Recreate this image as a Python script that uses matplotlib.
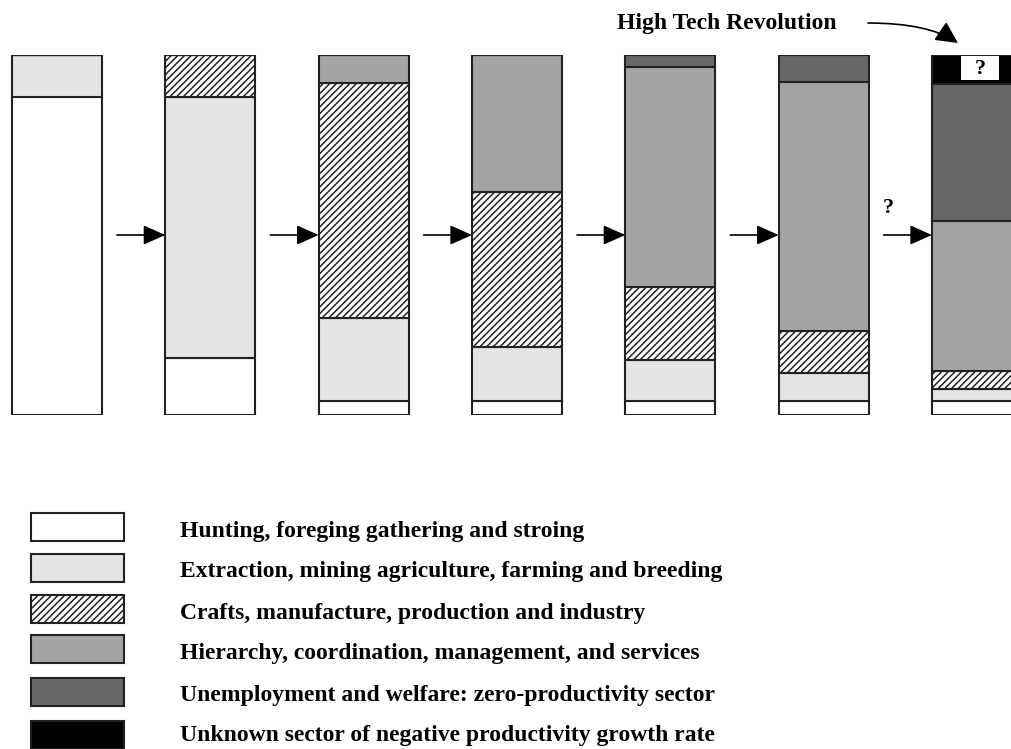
import matplotlib
matplotlib.use('Agg')
from matplotlib import pyplot as plt
from matplotlib.patches import Rectangle
import numpy as np

# 各阶段各部门所占份额（%），从下往上堆叠
stages = [0, 1, 2, 3, 4, 5, 6]
hunting = [88.3, 15.8, 3.9, 3.9, 3.9, 3.9, 3.9]
extraction = [11.7, 72.5, 23.0, 15.0, 11.4, 7.8, 3.3]
crafts = [0, 11.7, 65.3, 43.1, 20.3, 11.7, 5.0]
hierarchy = [0, 0, 7.8, 38.0, 61.1, 69.1, 41.7]
welfare = [0, 0, 0, 0, 3.3, 7.5, 38.1]
unknown = [0, 0, 0, 0, 0, 0, 8.0]

labels = ['Hunting, foreging gathering and stroing',
          'Extraction, mining agriculture, farming and breeding',
          'Crafts, manufacture, production and industry',
          'Hierarchy, coordination, management, and services',
          'Unemployment and welfare: zero-productivity sector',
          'Unknown sector of negative productivity growth rate']
colors = ['white', '#e4e4e4', 'white', '#a4a4a4', '#686868', 'black']
hatches = [None, None, '/////', None, None, None]
series = [hunting, extraction, crafts, hierarchy, welfare, unknown]

plt.rcParams['font.family'] = ['Liberation Serif', 'DejaVu Serif']
plt.rcParams['font.weight'] = 'bold'
plt.rcParams['hatch.linewidth'] = 1.1

W, H = 1011, 749
fig = plt.figure(figsize=(W / 100, H / 100), dpi=100)

# 柱状图区域：y 55~415 像素
ax = fig.add_axes([0, (H - 415) / H, 1, 360 / H])
step = 153.33
ax.set_xlim(-57 / step, (W - 57) / step)
ax.set_ylim(0, 100)
ax.axis('off')
bw = 90 / step

bottom = np.zeros(len(stages))
for vals, c, h in zip(series, colors, hatches):
    vals = np.array(vals)
    ax.bar(stages, vals, width=bw, bottom=bottom, color=c, hatch=h,
           edgecolor='#222222', linewidth=1.5, align='center')
    bottom += vals

# 阶段之间的箭头
for i in stages[:-1]:
    ax.annotate('', xy=(i + 1 - bw / 2, 50), xytext=(i + bw / 2 + 15 / step, 50),
                arrowprops=dict(arrowstyle='-|>,head_length=0.9,head_width=0.4',
                                mutation_scale=15, lw=1.2, color='black',
                                shrinkA=0, shrinkB=0))
ax.text(5.42, 57.5, '?', fontsize=16, ha='center', va='center')

# 黑色部分中的问号框
top7 = bottom[6]
blk = unknown[6]
ax.add_patch(Rectangle((6 - 16 / step, top7 - blk + 1.1), 38 / step, blk - 1.4,
                       facecolor='white', edgecolor='none', zorder=3))
ax.text(6 + 3 / step, top7 - blk / 2, '?', fontsize=16, ha='center', va='center', zorder=4)

# 覆盖层：标题和图例（像素坐标）
ov = fig.add_axes([0, 0, 1, 1])
ov.set_xlim(0, W)
ov.set_ylim(H, 0)
ov.axis('off')
ov.patch.set_alpha(0)

ov.text(727, 23, 'High Tech Revolution', fontsize=17, ha='center', va='center')
ov.annotate('', xy=(958, 43), xytext=(868, 23),
            arrowprops=dict(arrowstyle='-|>,head_length=0.9,head_width=0.45',
                            mutation_scale=15, lw=1.2, color='black',
                            connectionstyle='angle3,angleA=0,angleB=-34',
                            shrinkA=0, shrinkB=0))

box_tops = [513, 554, 595, 635, 678, 721]
text_y = [532, 572, 614, 653, 696, 735]
for t, ty, lab, c, h in zip(box_tops, text_y, labels, colors, hatches):
    ov.add_patch(Rectangle((31, t), 93, 28, facecolor=c, hatch=h,
                           edgecolor='#222222', linewidth=1.5))
    ov.text(180, ty, lab, fontsize=17, ha='left', va='center')

fig.savefig('out.png', dpi=100)
